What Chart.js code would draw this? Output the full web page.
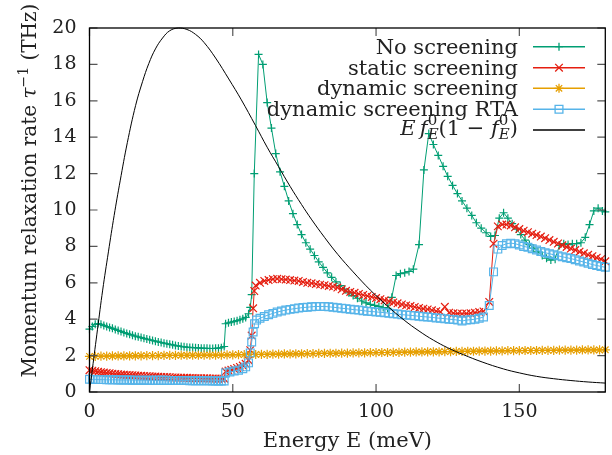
<!DOCTYPE html>
<html>
<head>
<meta charset="utf-8">
<script src="https://cdn.jsdelivr.net/npm/chart.js@4.4.0/dist/chart.umd.min.js"></script>
<style>
  html, body { margin: 0; padding: 0; background: #fff; }
  #wrap { width: 612px; height: 455px; }
</style>
</head>
<body>
<div id="wrap"><canvas id="chart" width="612" height="455"></canvas></div>
<script>
// energies (meV) of the dense low-energy part, shared by three curves
const eLow = [0,1,2,3,4,5,6,7,8,9,10,11,12,13,14,15,16,17,18,19,20,21,22,23,24,
  25,26,27,28,29,30,31,32,33,34,35,36,37,38,39,40,41,42,43,44,45,46,47];

// No screening
const rNoLow = [3.45,3.6,3.72,3.76,3.72,3.66,3.6,3.55,3.5,3.44,3.38,3.33,3.27,3.22,3.17,3.12,
  3.07,3.03,2.99,2.95,2.91,2.87,2.83,2.79,2.75,2.72,2.68,2.65,2.62,2.59,2.55,2.53,2.5,2.48,
  2.46,2.45,2.44,2.43,2.42,2.41,2.4,2.4,2.39,2.39,2.4,2.41,2.43,2.5];
const eNoHigh = [47.5,48.5,49.5,50.5,51.5,52.5,53.5,54.5,55.5,56.1,
  56.6,57.5,59,60.5,62,63.5,65,66.5,68,69.5,
  71,72.5,74,75.5,77,78.5,80,81.5,83,84.5,
  86,87.5,89,90.5,92,93.5,95,96.5,98,99.5,
  101,102.5,104,105.5,107,108.5,110,111.5,113,115,
  116.7,118.4,120,121.7,123.4,125,126.7,128.4,130,131.7,
  133.4,135,136.7,138.4,140,141.5,143,144.5,146,147.5,
  149,150.5,152,153.5,155,156.5,158,159.5,161,162.5,
  164,165.5,167,168.5,170,171.5,173,174.5,176,177.5,
  179,180];
const rNoHigh = [3.75,3.8,3.84,3.88,3.92,3.97,4.02,4.1,4.3,4.65,
  5.35,12.0,18.55,18.0,15.9,14.5,13.1,12.1,11.3,10.5,
  9.8,9.2,8.65,8.2,7.85,7.5,7.15,6.85,6.55,6.3,
  6.05,5.85,5.65,5.45,5.3,5.15,5.0,4.9,4.82,4.76,
  4.7,4.64,4.6,5.2,6.4,6.5,6.55,6.62,6.75,8.1,
  12.2,14.2,13.6,13.0,12.4,11.85,11.35,10.9,10.5,10.1,
  9.7,9.3,9.0,8.75,8.55,8.6,9.55,9.85,9.55,9.25,
  8.95,8.65,8.35,8.1,7.9,7.7,7.5,7.35,7.25,7.3,
  8.05,8.15,8.1,8.15,8.15,8.2,8.5,9.2,9.95,10.1,
  9.95,9.9];

// static screening
const rStaticLow = [1.2,1.17,1.14,1.11,1.09,1.07,1.05,1.03,1.01,0.99,0.98,0.96,0.95,0.94,0.93,
  0.92,0.91,0.9,0.89,0.88,0.87,0.86,0.85,0.85,0.84,0.83,0.82,0.82,0.81,0.8,0.8,0.79,0.79,
  0.78,0.78,0.77,0.77,0.76,0.76,0.75,0.75,0.75,0.74,0.74,0.74,0.73,0.73,0.73];
const eStaticHigh = [47.5,48.5,49.5,50.5,51.5,52.5,53.5,54.5,55.5,56.1,
  56.6,57.1,57.5,58,59.5,61,62.5,64,65.5,67,
  68.5,70,71.5,73,74.5,76,77.5,79,80.5,82,
  83.5,85,86.5,88,89.5,91,92.5,94,95.5,97,
  98.5,100,101.5,103,104.5,106,107.5,109,110.5,112,
  113.5,115,116.5,118,119.5,121,122.5,124,125.5,127,
  128.5,130,131.5,133,134.5,136,137.5,139.5,141,142.5,
  144,145.5,147,148.5,150,151.5,153,154.5,156,157.5,
  159,160.5,162,163.5,165,166.5,168,169.5,171,172.5,
  174,175.5,177,178.5,180];
const rStaticHigh = [1.12,1.18,1.22,1.27,1.32,1.38,1.45,1.55,1.75,2.3,
  3.1,4.6,5.55,5.85,6.0,6.1,6.15,6.2,6.22,6.2,
  6.18,6.15,6.12,6.1,6.05,6.0,5.97,5.93,5.9,5.87,
  5.83,5.79,5.74,5.64,5.56,5.5,5.45,5.39,5.33,5.28,
  5.22,5.16,5.1,5.04,4.98,4.92,4.87,4.81,4.76,4.72,
  4.67,4.62,4.58,4.54,4.49,4.44,4.4,4.68,4.36,4.33,
  4.31,4.3,4.31,4.33,4.36,4.39,4.43,4.95,8.15,9.1,
  9.2,9.2,9.15,9.05,8.95,8.86,8.78,8.7,8.62,8.54,
  8.45,8.35,8.25,8.16,8.06,7.97,7.88,7.8,7.71,7.62,
  7.54,7.46,7.38,7.3,7.18];

// dynamic screening
const eDyn = [0,2,4,6,8,10,12,14,16,18,20,22,24,26,28,30,32,34,36,38,40,42,44,46,48,50,
  52,54,56,58,60,62,64,66,68,70,72,74,76,78,80,82,84,86,88,90,92,94,96,98,100,
  102,104,106,108,110,112,114,116,118,120,122,124,126,128,130,132,134,136,138,140,
  142,144,146,148,150,152,154,156,158,160,162,164,166,168,170,172,174,176,178,180];
const rDyn = [1.96,1.96,1.97,1.97,1.98,1.98,1.98,1.99,1.99,1.99,
  2.0,2.0,2.0,2.01,2.01,2.01,2.02,2.02,2.02,2.02,
  2.03,2.03,2.03,2.03,2.04,2.04,2.05,2.05,2.06,2.06,
  2.07,2.07,2.08,2.08,2.09,2.09,2.1,2.1,2.11,2.11,
  2.12,2.12,2.13,2.13,2.14,2.14,2.15,2.15,2.15,2.16,
  2.16,2.17,2.17,2.18,2.18,2.19,2.19,2.2,2.2,2.21,
  2.21,2.21,2.22,2.22,2.23,2.23,2.24,2.24,2.25,2.25,
  2.25,2.26,2.26,2.27,2.27,2.27,2.28,2.28,2.28,2.29,
  2.29,2.29,2.3,2.3,2.3,2.3,2.31,2.31,2.31,2.31,
  2.32];

// dynamic screening RTA
const rRtaLow = [0.7,0.69,0.69,0.68,0.68,0.68,0.67,0.67,0.67,0.67,0.66,0.66,0.66,0.66,0.66,
  0.65,0.65,0.65,0.65,0.65,0.65,0.64,0.64,0.64,0.64,0.64,0.64,0.64,0.63,0.63,0.63,0.63,
  0.63,0.63,0.63,0.62,0.62,0.62,0.62,0.62,0.62,0.62,0.62,0.61,0.61,0.61,0.61,0.61];
const eRtaHigh = [47.5,49,50.5,52,53.5,54.5,55.5,56.1,56.6,57.1,
  57.6,58.3,59.5,61,62.5,64,65.5,67,68.5,70,
  71.5,73,74.5,76,77.5,79,80.5,82,83.5,85,
  86.5,88,89.5,91,92.5,94,95.5,97,98.5,100,
  101.5,103,104.5,106,107.5,109,110.5,112,113.5,115,
  116.5,118,119.5,121,122.5,124,125.5,127,128.5,130,
  131.5,133,134.5,136,137.5,139.5,141,142.5,144,145.5,
  147,148.5,150,151.5,153,154.5,156,157.5,159,160.5,
  162,163.5,165,166.5,168,169.5,171,172.5,174,175.5,
  177,178.5,180];
const rRtaHigh = [1.05,1.1,1.15,1.2,1.28,1.38,1.6,2.15,2.75,3.3,
  3.75,3.95,4.05,4.15,4.24,4.32,4.39,4.45,4.5,4.54,
  4.58,4.61,4.64,4.66,4.68,4.7,4.7,4.7,4.68,4.66,
  4.63,4.6,4.58,4.55,4.52,4.5,4.47,4.44,4.42,4.4,
  4.38,4.36,4.33,4.3,4.28,4.25,4.23,4.21,4.19,4.16,
  4.14,4.12,4.1,4.07,4.05,4.03,4.0,3.98,3.95,3.9,
  3.95,3.97,4.0,4.05,4.12,4.75,6.6,7.85,8.05,8.15,
  8.18,8.15,8.08,8.0,7.95,7.87,7.8,7.72,7.65,7.6,
  7.54,7.48,7.43,7.38,7.33,7.27,7.2,7.14,7.07,7.0,
  6.95,6.9,6.85];

// E f0 (1 - f0), scaled
const eFermi = [0,1,2.8,4.6,6.6,8.6,10.7,13.2,16.1,18.5,20.7,23,25.5,28,31,34,37,40,44,48.6,
  53,57.9,62,65.9,70,74,77.4,82,86.7,92,98,104,109.8,115,120,125,130.5,137,144.4,150,
  156,162,168,174,180];
const rFermi = [0,1.25,3.45,5.6,7.7,9.7,11.6,13.7,15.75,17.05,18.05,18.85,19.45,19.85,20,19.92,
  19.65,19.2,18.35,17.2,16.05,14.65,13.45,12.4,11.3,10.3,9.5,8.5,7.55,6.6,5.6,4.72,3.95,
  3.35,2.85,2.43,2.05,1.65,1.27,1.05,0.86,0.73,0.63,0.55,0.49];

const xTicks = [0, 50, 100, 150];

const GREEN = '#009e73', RED = '#e51e10', ORANGE = '#e69f00', BLUE = '#56b4e9';
const FONT = "'DejaVu Serif', serif";

const pts = (xs, ys) => xs.map((x, i) => ({ x, y: ys[i] }));

const series = (label, data, color, style, radius, order) => ({
  label, data, order,
  showLine: true,
  borderColor: color,
  borderWidth: 1,
  pointStyle: style,
  pointRadius: radius,
  pointBorderColor: color,
  pointBackgroundColor: 'rgba(0,0,0,0)',
  pointBorderWidth: 1.2,
  clip: false
});

// legend rows: colour, marker, text parts
const SUB = [{ t: '0', size: 15, dy: -10 }, { t: 'E', it: true, size: 15, dy: 4 }];
const legendRows = [
  { color: GREEN, mark: 'plus', parts: [{ t: 'No screening' }] },
  { color: RED, mark: 'x', parts: [{ t: 'static screening' }] },
  { color: ORANGE, mark: 'star', parts: [{ t: 'dynamic screening' }] },
  { color: BLUE, mark: 'square', parts: [{ t: 'dynamic screening RTA' }] },
  { color: '#000', mark: null, parts: [
    { t: 'E', it: true }, { t: '\u2009' }, { t: 'f', it: true }, { stack: SUB },
    { t: '(1 \u2212 ' }, { t: 'f', it: true }, { stack: SUB }, { t: ')' }
  ] }
];
const legendLineY = [46.7, 67.7, 88.3, 109.3, 130];

function fontOf(p) {
  return (p.it ? 'italic ' : '') + (p.size || 21) + 'px ' + FONT;
}
function measureParts(ctx, parts) {
  let w = 0;
  parts.forEach(p => {
    const items = p.stack || [p];
    p.w = Math.max(...items.map(s => { ctx.font = fontOf(s); return ctx.measureText(s.t).width; }));
    w += p.w;
  });
  return w;
}
function drawParts(ctx, parts, x, y) {
  parts.forEach(p => {
    (p.stack || [p]).forEach(s => {
      ctx.font = fontOf(s);
      ctx.fillText(s.t, x, y + (s.dy || 0));
    });
    x += p.w;
  });
}
function drawMark(ctx, mark, x, y) {
  ctx.beginPath();
  if (mark === 'plus') {
    ctx.moveTo(x - 4, y); ctx.lineTo(x + 4, y);
    ctx.moveTo(x, y - 4); ctx.lineTo(x, y + 4);
  } else if (mark === 'x') {
    ctx.moveTo(x - 3.8, y - 3.8); ctx.lineTo(x + 3.8, y + 3.8);
    ctx.moveTo(x - 3.8, y + 3.8); ctx.lineTo(x + 3.8, y - 3.8);
  } else if (mark === 'star') {
    ctx.moveTo(x - 4.5, y); ctx.lineTo(x + 4.5, y);
    ctx.moveTo(x, y - 4.5); ctx.lineTo(x, y + 4.5);
    ctx.moveTo(x - 3.2, y - 3.2); ctx.lineTo(x + 3.2, y + 3.2);
    ctx.moveTo(x - 3.2, y + 3.2); ctx.lineTo(x + 3.2, y - 3.2);
  } else if (mark === 'square') {
    ctx.rect(x - 3.9, y - 3.9, 7.8, 7.8);
  }
  ctx.stroke();
}

const decorations = {
  id: 'decorations',
  afterDatasetsDraw(chart) {
    const { ctx, chartArea: a, scales } = chart;
    ctx.save();

    // inward ticks on all four sides
    ctx.strokeStyle = '#555';
    ctx.lineWidth = 1.2;
    ctx.beginPath();
    scales.y.ticks.forEach(t => {
      const py = scales.y.getPixelForValue(t.value);
      ctx.moveTo(a.left, py); ctx.lineTo(a.left + 8, py);
      ctx.moveTo(a.right, py); ctx.lineTo(a.right - 8, py);
    });
    scales.x.ticks.forEach(t => {
      const px = scales.x.getPixelForValue(t.value);
      ctx.moveTo(px, a.bottom); ctx.lineTo(px, a.bottom - 8);
      ctx.moveTo(px, a.top); ctx.lineTo(px, a.top + 8);
    });
    ctx.stroke();

    // frame
    ctx.strokeStyle = '#000';
    ctx.lineWidth = 1.3;
    ctx.strokeRect(a.left, a.top, a.right - a.left, a.bottom - a.top);

    // legend
    ctx.textAlign = 'left';
    ctx.textBaseline = 'alphabetic';
    legendRows.forEach((row, i) => {
      const ly = legendLineY[i];
      const w = measureParts(ctx, row.parts);
      ctx.fillStyle = '#222';
      drawParts(ctx, row.parts, 518 - w, ly + (row.mark ? 7 : 4.5));
      ctx.strokeStyle = row.color;
      ctx.lineWidth = 1.5;
      ctx.beginPath();
      ctx.moveTo(533, ly); ctx.lineTo(585, ly);
      ctx.stroke();
      if (row.mark) {
        ctx.lineWidth = 1.3;
        drawMark(ctx, row.mark, 559, ly);
      }
    });

    // x title
    ctx.fillStyle = '#222';
    ctx.font = '21px ' + FONT;
    ctx.textAlign = 'center';
    ctx.fillText('Energy E (meV)', (a.left + a.right) / 2, 447);

    // y title (rotated, with tau^-1)
    const yParts = [
      { t: 'Momentum relaxation rate ', size: 20 },
      { t: '\u03c4', it: true, size: 20 },
      { t: '\u22121', size: 14, dy: -8 },
      { t: ' (THz)', size: 20 }
    ];
    ctx.textAlign = 'left';
    const yw = measureParts(ctx, yParts);
    ctx.translate(36, 190.5);
    ctx.rotate(-Math.PI / 2);
    drawParts(ctx, yParts, -yw / 2, 0);

    ctx.restore();
  }
};

new Chart(document.getElementById('chart'), {
  type: 'scatter',
  data: {
    datasets: [
      series('No screening', pts(eLow.concat(eNoHigh), rNoLow.concat(rNoHigh)), GREEN, 'cross', 4, 5),
      series('static screening', pts(eLow.concat(eStaticHigh), rStaticLow.concat(rStaticHigh)), RED, 'crossRot', 5.4, 4),
      series('dynamic screening', pts(eDyn, rDyn), ORANGE, 'star', 4.6, 3),
      series('dynamic screening RTA', pts(eLow.concat(eRtaHigh), rRtaLow.concat(rRtaHigh)), BLUE, 'rect', 5.5, 2),
      {
        label: 'E f0 (1 - f0)',
        data: pts(eFermi, rFermi),
        order: 1,
        showLine: true,
        borderColor: '#000',
        borderWidth: 1,
        pointRadius: 0,
        tension: 0.4,
        clip: false
      }
    ]
  },
  options: {
    responsive: false,
    animation: false,
    devicePixelRatio: 1,
    layout: { padding: { left: 0, right: 2.5, top: 28, bottom: 0 } },
    font: { family: FONT },
    plugins: {
      legend: { display: false },
      tooltip: { enabled: false }
    },
    scales: {
      x: {
        type: 'linear',
        min: 0,
        max: 180,
        grid: { display: false, drawTicks: false },
        border: { display: false },
        afterBuildTicks: s => { s.ticks = xTicks.map(v => ({ value: v })); },
        ticks: { padding: 9, color: '#222', maxRotation: 0, font: { family: FONT, size: 19 } },
        afterFit: s => { s.height = 63; }
      },
      y: {
        min: 0,
        max: 20,
        grid: { display: false, drawTicks: false },
        border: { display: false },
        ticks: { stepSize: 2, padding: 13, color: '#222', font: { family: FONT, size: 19 } },
        afterFit: s => { s.width = 89.5; }
      }
    }
  },
  plugins: [decorations]
});
</script>
</body>
</html>
